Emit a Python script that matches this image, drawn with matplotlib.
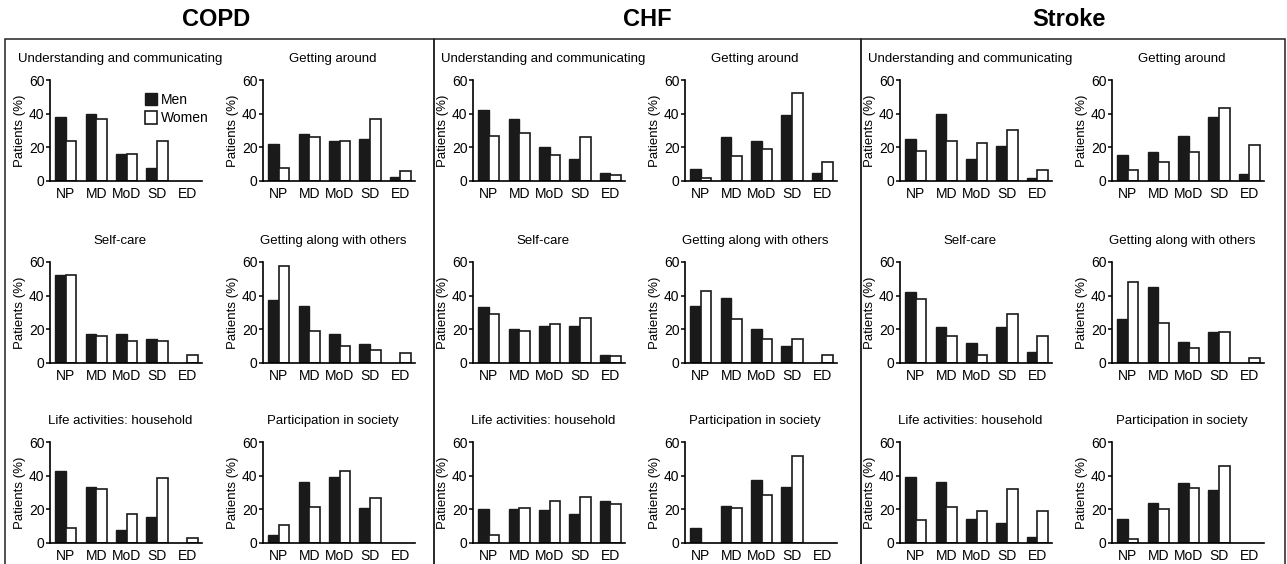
import matplotlib
matplotlib.use("Agg")
from matplotlib import pyplot as plt
from matplotlib.patches import Rectangle
import numpy as np

plt.rcParams["font.family"] = ["Liberation Sans", "DejaVu Sans"]
plt.rcParams["font.size"] = 9.5

levels = ["NP", "MD", "MoD", "SD", "ED"]
domains = ["Understanding and communicating", "Getting around",
           "Self-care", "Getting along with others",
           "Life activities: household", "Participation in society"]
diseases = ["COPD", "CHF", "Stroke"]

# % of patients per level, one row per domain (same order as domains)
copd_men = [[38, 40, 16, 8, 0],
            [22, 28, 24, 25, 2.5],
            [52, 17, 17.5, 14, 0],
            [37.5, 34, 17, 11, 0],
            [43, 33.5, 8, 15.5, 0],
            [5, 36.5, 39.5, 20.5, 0]]
copd_women = [[24, 37, 16, 24, 0],
              [8, 26, 24, 37, 6],
              [52.5, 16, 13, 13, 5],
              [57.5, 19, 10, 8, 6],
              [9, 32, 17.5, 38.5, 3],
              [10.5, 21.5, 43, 27, 0]]

chf_men = [[42, 37, 20, 13, 4.5],
           [7, 26, 24, 39, 4.5],
           [33, 20, 22, 22, 5],
           [34, 38.5, 20, 10, 0],
           [20, 20, 19.5, 17, 25],
           [9, 22, 37.5, 33.5, 0]]
chf_women = [[27, 28.5, 15.5, 26, 3.5],
             [1.5, 15, 19, 52.5, 11],
             [29, 19, 23, 27, 4],
             [42.5, 26, 14.5, 14.5, 5],
             [4.5, 20.5, 25, 27.5, 23],
             [0, 21, 28.5, 51.5, 0]]

stroke_men = [[25, 40, 13, 21, 1.5],
              [15.5, 17, 26.5, 38, 4],
              [42, 21.5, 12, 21.5, 6.5],
              [26, 45, 12.5, 18.5, 0],
              [39, 36.5, 14, 12, 3.5],
              [14.5, 23.5, 35.5, 31.5, 0]]
stroke_women = [[18, 24, 22.5, 30.5, 6.5],
                [6.5, 11, 17.5, 43.5, 21.5],
                [38, 16, 5, 29, 16],
                [48, 24, 9, 18.5, 3],
                [13.5, 21.5, 19, 32, 19],
                [2.5, 20, 32.5, 46, 0]]

men_all = [copd_men, chf_men, stroke_men]
women_all = [copd_women, chf_women, stroke_women]

W, H = 1287, 564
fig = plt.figure(figsize=(W / 100, H / 100), dpi=100)


def px_axes(left, top, w=152, h=101):
    return fig.add_axes([left / W, 1 - (top + h) / H, w / W, h / H])


def draw_bars(ax, pos, vals, **kw):
    # empty categories get no bar at all (no stub on the axis)
    vals = np.asarray(vals, dtype=float)
    keep = vals > 0
    return ax.bar(pos[keep], vals[keep], bw, **kw)


box_left = [5, 434, 861]
box_right = [434, 861, 1285]
title_x = [216, 647, 1069]
col_left = [[50, 263], [473, 685], [900, 1112]]
row_top = [80, 262, 442]

x = np.arange(len(levels))
bw = 0.35

for g, disease in enumerate(diseases):
    fig.add_artist(Rectangle((box_left[g] / W, -0.01),
                             (box_right[g] - box_left[g]) / W,
                             1 - 39 / H + 0.01,
                             transform=fig.transFigure, fill=False,
                             lw=1.1, edgecolor='#222222'))
    fig.text(title_x[g] / W, 1 - 20 / H, disease, ha='center', va='center',
             fontsize=17, fontweight='bold')

    for d in range(len(domains)):
        ax = px_axes(col_left[g][d % 2], row_top[d // 2])
        draw_bars(ax, x - bw / 2, men_all[g][d], color='#1a1a1a',
                  edgecolor='#1a1a1a', lw=1.0, label='Men')
        draw_bars(ax, x + bw / 2, women_all[g][d], color='white',
                  edgecolor='#1a1a1a', lw=1.2, label='Women')
        ax.set_xlim(-0.52, 4.48)
        ax.set_ylim(0, 60)
        ax.set_yticks([0, 20, 40, 60])
        ax.set_xticks(x)
        ax.set_xticklabels(levels)
        ax.tick_params(axis='x', length=0, pad=4, labelsize=10)
        ax.tick_params(axis='y', length=3, width=1.1, pad=1, labelsize=10)
        for s in ['top', 'right']:
            ax.spines[s].set_visible(False)
        for s in ['left', 'bottom']:
            ax.spines[s].set_linewidth(1.2)
        ax.set_ylabel('Patients (%)', labelpad=2, fontsize=9.5)
        ax.set_title(domains[d], x=0.46, pad=13, fontsize=9.5)

        if g == 0 and d == 0:
            ax.legend(loc='upper left', bbox_to_anchor=(0.58, 0.94),
                      frameon=False, handlelength=0.85, handleheight=1.0,
                      handletextpad=0.3, labelspacing=0.3, borderpad=0,
                      fontsize=10)

plt.savefig('out.png', dpi=100)
